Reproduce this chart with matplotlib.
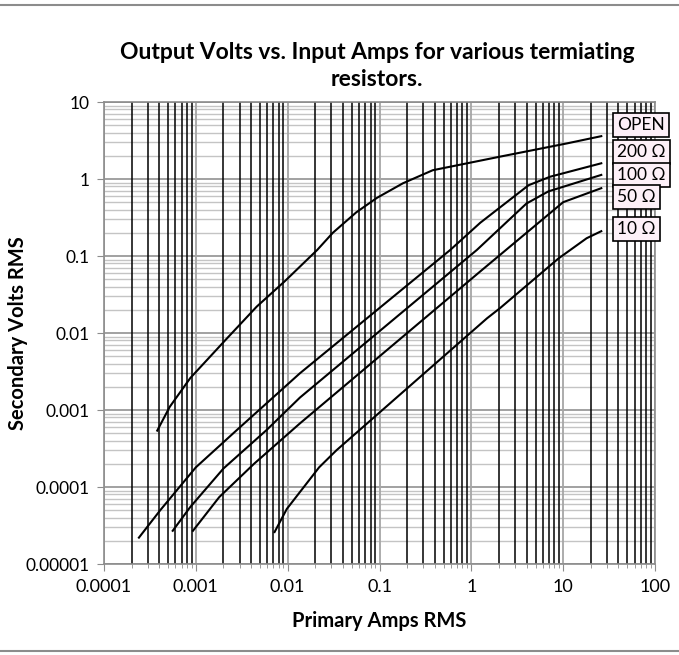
import numpy as np
import matplotlib.pyplot as plt
from matplotlib.ticker import LogLocator, FuncFormatter, NullFormatter
from matplotlib.patches import Rectangle

plt.rcParams['font.family'] = ['Lato', 'DejaVu Sans']

# data (amps, volts)
amps_open = [0.00038, 0.00052, 0.00087, 0.0021, 0.0046, 0.0093, 0.021, 0.031,
             0.056, 0.094, 0.18, 0.38, 2.05, 11, 26]
volts_open = [0.00054, 0.0011, 0.0026, 0.0081, 0.022, 0.047, 0.12, 0.2,
              0.37, 0.57, 0.88, 1.3, 1.95, 2.9, 3.6]

amps_200 = [0.00024, 0.00041, 0.001, 0.0028, 0.0136, 0.59, 1.25, 4.2, 7.2, 26]
volts_200 = [2.2e-5, 5e-5, 1.8e-4, 5.5e-4, 0.003, 0.12, 0.27, 0.83, 1.07, 1.6]

amps_100 = [0.00056, 0.00087, 0.002, 0.0059, 0.0136, 1.15, 3.98, 6.9, 26]
volts_100 = [2.7e-5, 5.5e-5, 1.74e-4, 5.5e-4, 0.00145, 0.12, 0.48, 0.69, 1.13]

amps_50 = [0.00093, 0.0018, 0.0043, 0.0136, 1.25, 10, 26]
volts_50 = [2.7e-5, 7.4e-5, 2.0e-4, 6.7e-4, 0.063, 0.5, 0.76]

amps_10 = [0.0072, 0.0098, 0.022, 0.034, 1.48, 2.05, 8.9, 18, 26]
volts_10 = [2.6e-5, 5.2e-5, 1.8e-4, 3.0e-4, 0.0155, 0.021, 0.093, 0.17, 0.21]

x_ticks = [0.0001, 0.001, 0.01, 0.1, 1, 10, 100]
y_ticks = [0.00001, 0.0001, 0.001, 0.01, 0.1, 1, 10]

series = [
    ('OPEN', amps_open, volts_open),
    ('200 \u03a9', amps_200, volts_200),
    ('100 \u03a9', amps_100, volts_100),
    ('50 \u03a9', amps_50, volts_50),
    ('10 \u03a9', amps_10, volts_10),
]
# label offsets in pixels from the last point
label_offsets = [(16, 11), (16, 11), (16, 0), (16, -9), (16, 2)]

fig = plt.figure(figsize=(6.79, 6.55), dpi=100)
ax = fig.add_axes([104 / 679, 1 - 564 / 655, 551 / 679, 462 / 655])

ax.set_xscale('log')
ax.set_yscale('log')
ax.set_xlim(x_ticks[0], x_ticks[-1])
ax.set_ylim(y_ticks[0], y_ticks[-1])
ax.set_xticks(x_ticks)
ax.set_yticks(y_ticks)

for axis in (ax.xaxis, ax.yaxis):
    axis.set_minor_locator(LogLocator(base=10, subs=np.arange(2, 10), numticks=20))
    axis.set_minor_formatter(NullFormatter())
    axis.set_major_formatter(FuncFormatter(lambda v, p: np.format_float_positional(v, trim='-')))

# gridlines like the excel chart: vertical ones sit on top of horizontal ones
ax.grid(which='minor', axis='x', color='black', lw=1.1)
ax.grid(which='major', axis='x', color='#a6a6a6', lw=1.3)
ax.grid(which='minor', axis='y', color='#c4c4c4', lw=1.0)
ax.grid(which='major', axis='y', color='#9a9a9a', lw=1.3)
ax.set_axisbelow(True)
ax.yaxis.set_zorder(0.4)
ax.xaxis.set_zorder(0.5)

for sp in ax.spines.values():
    sp.set_color('#8c8c8c')
    sp.set_linewidth(1.2)

ax.tick_params(which='major', length=5, color='#8c8c8c', labelsize=13, pad=6)
ax.tick_params(which='major', axis='y', labelsize=12.5, pad=5)
ax.tick_params(which='minor', axis='x', length=3, color='#8c8c8c')
ax.tick_params(which='minor', axis='y', length=0)

for (name, a, v), (dx, dy) in zip(series, label_offsets):
    ax.plot(a, v, color='black', lw=1.5, solid_joinstyle='round', zorder=3)
    ax.annotate(name, xy=(a[-1], v[-1]), xytext=(dx, dy),
                textcoords='offset pixels', ha='left', va='center',
                fontsize=12.5, annotation_clip=False, zorder=4,
                bbox=dict(boxstyle='square,pad=0.22', fc='#fdf0f8',
                          ec='black', lw=1.2))

ax.set_xlabel('Primary Amps RMS', fontsize=14.5, fontweight='bold', labelpad=11)
fig.text(18 / 679, 1 - 333 / 655, 'Secondary Volts RMS', rotation=90,
         ha='center', va='center', fontsize=14.5, fontweight='bold')

fig.text(0.555, 1 - 66 / 655,
         'Output Volts vs. Input Amps for various termiating\nresistors.',
         ha='center', va='center', fontsize=16.5, fontweight='bold',
         linespacing=1.35)

# outer chart border
fig.patches.append(Rectangle((-0.01, 4 / 655), 1.02, 1 - 9 / 655,
                             transform=fig.transFigure, fill=False,
                             ec='#8c8c8c', lw=1.5))

fig.savefig('out.png', dpi=100)
